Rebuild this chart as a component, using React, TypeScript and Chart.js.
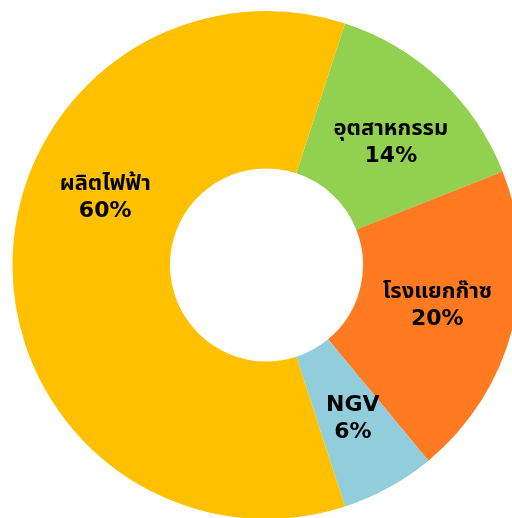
import React, { useEffect, useRef } from "react";
import { Chart, registerables } from "chart.js";

Chart.register(...registerables);

const categories = ["อุตสาหกรรม", "โรงแยกก๊าซ", "NGV", "ผลิตไฟฟ้า"];
const shares = [14, 20, 6, 60];
const colors = ["#92D050", "#FF7A21", "#92CDDC", "#FFC000"];

// label placement tweaks (degrees offset from slice mid angle)
const labelAngleOffset = [2, -1.5, -0.7, 23];

const labelPlugin = {
  id: "sliceLabels",
  afterDatasetsDraw(chart: any) {
    const ctx = chart.ctx;
    const meta = chart.getDatasetMeta(0);
    ctx.save();
    ctx.fillStyle = "#000000";
    ctx.textAlign = "center";
    ctx.textBaseline = "middle";
    ctx.font = "bold 22px 'DejaVu Sans', Tahoma, 'Noto Sans Thai', sans-serif";
    meta.data.forEach((arc: any, i: number) => {
      const p = arc.getProps(["startAngle", "endAngle", "innerRadius", "outerRadius", "x", "y"], true);
      const mid = (p.startAngle + p.endAngle) / 2 + (labelAngleOffset[i] * Math.PI) / 180;
      const r = (p.innerRadius + p.outerRadius) / 2;
      const cx = p.x + Math.cos(mid) * r;
      const cy = p.y + Math.sin(mid) * r;
      ctx.fillText(categories[i], cx, cy - 12);
      ctx.fillText(shares[i] + "%", cx, cy + 15);
    });
    ctx.restore();
  },
};

export default function App() {
  const ref = useRef<HTMLCanvasElement | null>(null);
  useEffect(() => {
    if (!ref.current) return;
    const chart = new Chart(ref.current, {
      type: "doughnut",
      data: {
        labels: categories,
        datasets: [
          {
            data: shares,
            backgroundColor: colors,
            borderWidth: 0,
          },
        ],
      },
      options: {
        responsive: false,
        animation: false,
        rotation: 18,
        cutout: "38%",
        layout: { padding: 0 },
        plugins: {
          legend: { display: false },
          tooltip: { enabled: false },
        },
      },
      plugins: [labelPlugin],
    });
    return () => chart.destroy();
  }, []);
  return (
    <div style={{ position: "fixed", left: 0, top: 0, width: 512, height: 518, overflow: "hidden", background: "#fff" }}>
      <canvas
        ref={ref}
        width={509}
        height={508}
        style={{ position: "absolute", left: 12, top: 11, width: 509, height: 508 }}
      />
    </div>
  );
}
